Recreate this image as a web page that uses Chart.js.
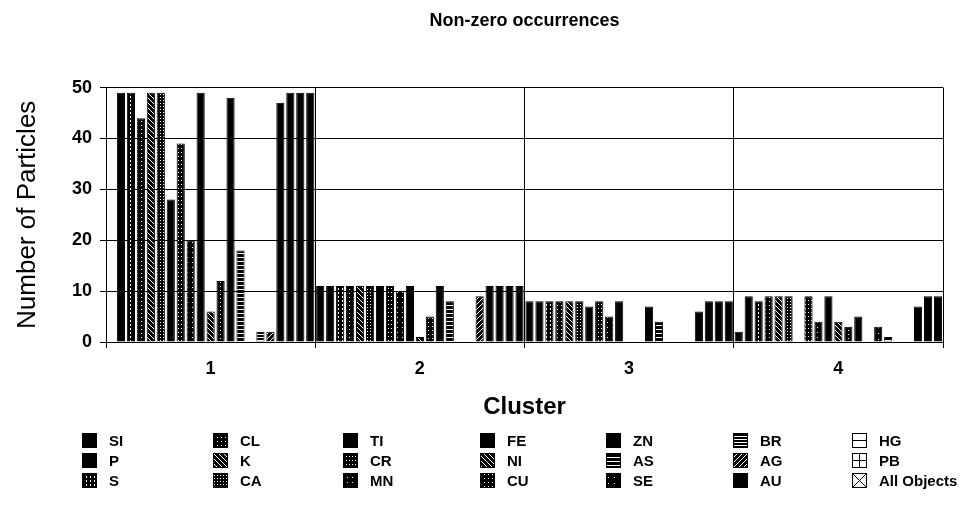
<!DOCTYPE html>
<html>
<head>
<meta charset="utf-8">
<title>Non-zero occurrences</title>
<script src="https://cdn.jsdelivr.net/npm/chart.js@4.4.0/dist/chart.umd.min.js"></script>
<style>
  html, body { margin: 0; padding: 0; background: #fff; }
</style>
</head>
<body>
<canvas id="chart" width="975" height="513"></canvas>
<script>
// categories
var clusters = ['1', '2', '3', '4'];
var elements = ['SI', 'P', 'S', 'CL', 'K', 'CA', 'TI', 'CR', 'MN', 'FE', 'NI',
                'CU', 'ZN', 'AS', 'SE', 'BR', 'AG', 'AU', 'HG', 'PB', 'All Objects'];

// number of particles per cluster (1..4) for each element
var SI  = [0, 11, 8, 2];
var P   = [49, 11, 8, 9];
var S   = [49, 11, 8, 8];
var CL  = [44, 11, 8, 9];
var K   = [49, 11, 8, 9];
var CA  = [49, 11, 8, 9];
var TI  = [28, 11, 7, 0];
var CR  = [39, 11, 8, 9];
var MN  = [20, 10, 5, 4];
var FE  = [49, 11, 8, 9];
var NI  = [6, 1, 0, 4];
var CU  = [12, 5, 0, 3];
var ZN  = [48, 11, 7, 5];
var AS  = [18, 8, 4, 0];
var SE  = [0, 0, 0, 3];
var BR  = [2, 0, 0, 1];
var AG  = [2, 9, 0, 0];
var AU  = [47, 11, 6, 0];
var HG  = [49, 11, 8, 7];
var PB  = [49, 11, 8, 9];
var ALL = [49, 11, 8, 9];

var yTicks = [0, 10, 20, 30, 40, 50];

var values = [SI, P, S, CL, K, CA, TI, CR, MN, FE, NI, CU, ZN, AS, SE, BR, AG, AU, HG, PB, ALL];

var FONT = '"Liberation Sans", Arial, Helvetica, sans-serif';
Chart.defaults.font.family = FONT;
Chart.defaults.color = '#000';

var canvas = document.getElementById('chart');
var ctx = canvas.getContext('2d');

// small pixel tiles to imitate the old black & white fill patterns (mostly dark, like the scan)
function tile(w, h, bg, fg, hit) {
  var c = document.createElement('canvas');
  c.width = w; c.height = h;
  var t = c.getContext('2d');
  t.fillStyle = bg; t.fillRect(0, 0, w, h);
  t.fillStyle = fg;
  for (var y = 0; y < h; y++)
    for (var x = 0; x < w; x++)
      if (hit(x, y)) t.fillRect(x, y, 1, 1);
  return ctx.createPattern(c, 'repeat');
}

var W = '#fff', B = '#000';
var fills = {
  SI: B,
  P: B,
  S: tile(4, 4, B, W, function(x, y) { return x == 2 && y < 2; }),
  CL: tile(4, 4, B, W, function(x, y) { return x == 1 && y == 1; }),
  K: tile(5, 5, B, W, function(x, y) { return (x - y + 10) % 5 == 0; }),
  CA: tile(3, 3, B, W, function(x, y) { return x == 1 && y == 1; }),
  TI: B,
  CR: tile(3, 4, B, W, function(x, y) { return x == 1 && y == 0; }),
  MN: tile(5, 5, B, W, function(x, y) { return x == 2 && y == 2; }),
  FE: B,
  NI: tile(5, 5, B, W, function(x, y) { return (x - y + 10) % 5 == 0; }),
  CU: tile(4, 4, B, W, function(x, y) { return x == 0 && y == 2; }),
  ZN: B,
  AS: tile(4, 4, B, W, function(x, y) { return y == 1; }),
  SE: tile(6, 6, B, W, function(x, y) { return x == 2 && y == 3; }),
  BR: tile(4, 3, B, W, function(x, y) { return y == 1; }),
  AG: tile(5, 5, B, W, function(x, y) { return (x + y) % 5 == 0; }),
  AU: B,
  HG: B,
  PB: B,
  'All Objects': B
};

var datasets = elements.map(function(name, i) {
  return {
    label: name,
    data: values[i],
    backgroundColor: fills[name],
    borderColor: '#000',
    borderWidth: 1,
    categoryPercentage: 1.0,
    barPercentage: 0.82
  };
});

// legend laid out in 7 columns x 3 rows, filled column by column
var legendCols = [82, 213, 343, 480, 606, 733, 852];
var legendRows = [433, 453, 473];
var BOX = 15;

var gridLegend = {
  id: 'gridLegend',
  afterDraw: function(chart) {
    var c = chart.ctx;
    c.save();
    c.font = 'bold 15px ' + FONT;
    c.textBaseline = 'middle';
    c.textAlign = 'left';
    chart.data.datasets.forEach(function(ds, k) {
      var x = legendCols[Math.floor(k / 3)], y = legendRows[k % 3];
      var name = ds.label;
      var outline = (name == 'HG' || name == 'PB' || name == 'All Objects');
      c.fillStyle = outline ? '#fff' : ds.backgroundColor;
      c.fillRect(x, y, BOX, BOX);
      c.strokeStyle = '#000';
      c.lineWidth = 1;
      c.strokeRect(x + 0.5, y + 0.5, BOX - 1, BOX - 1);
      c.beginPath();
      if (name == 'HG' || name == 'PB') {
        c.moveTo(x, y + BOX / 2); c.lineTo(x + BOX, y + BOX / 2);
      }
      if (name == 'PB') {
        c.moveTo(x + BOX / 2, y); c.lineTo(x + BOX / 2, y + BOX);
      }
      if (name == 'All Objects') {
        c.moveTo(x, y); c.lineTo(x + BOX, y + BOX);
        c.moveTo(x + BOX, y); c.lineTo(x, y + BOX);
      }
      c.stroke();
      c.fillStyle = '#000';
      c.fillText(name, x + 27, y + BOX / 2 + 1);
    });
    c.restore();
  }
};

new Chart(ctx, {
  type: 'bar',
  data: { labels: clusters, datasets: datasets },
  plugins: [gridLegend],
  options: {
    responsive: false,
    animation: false,
    layout: { padding: { left: 0, right: 32, top: 0, bottom: 86 } },
    plugins: {
      legend: { display: false },
      tooltip: { enabled: false },
      title: {
        display: true,
        text: 'Non-zero occurrences',
        fullSize: false,
        color: '#000',
        font: { size: 18, weight: 'bold' },
        padding: { top: 10, bottom: 56 }
      }
    },
    scales: {
      x: {
        afterFit: function(s) { s.height = 85; },
        grid: { color: '#000', lineWidth: 1, tickLength: 6, offset: true },
        border: { color: '#000', width: 1 },
        ticks: { color: '#000', padding: 10, font: { size: 18, weight: 'bold' } },
        title: {
          display: true, text: 'Cluster', color: '#000',
          font: { size: 24, weight: 'bold' },
          padding: { top: 0, bottom: 5 }
        }
      },
      y: {
        min: 0,
        max: 50,
        afterFit: function(s) { s.width = 106; },
        afterBuildTicks: function(s) { s.ticks = yTicks.map(function(v) { return { value: v }; }); },
        grid: { color: '#000', lineWidth: 1, tickLength: 6 },
        border: { color: '#000', width: 1 },
        ticks: { color: '#000', padding: 8, font: { size: 18, weight: 'bold' } },
        title: {
          display: true, text: 'Number of Particles', color: '#000',
          font: { size: 26, weight: 'normal' },
          padding: { top: 12, bottom: 0 }
        }
      }
    }
  }
});
</script>
</body>
</html>
